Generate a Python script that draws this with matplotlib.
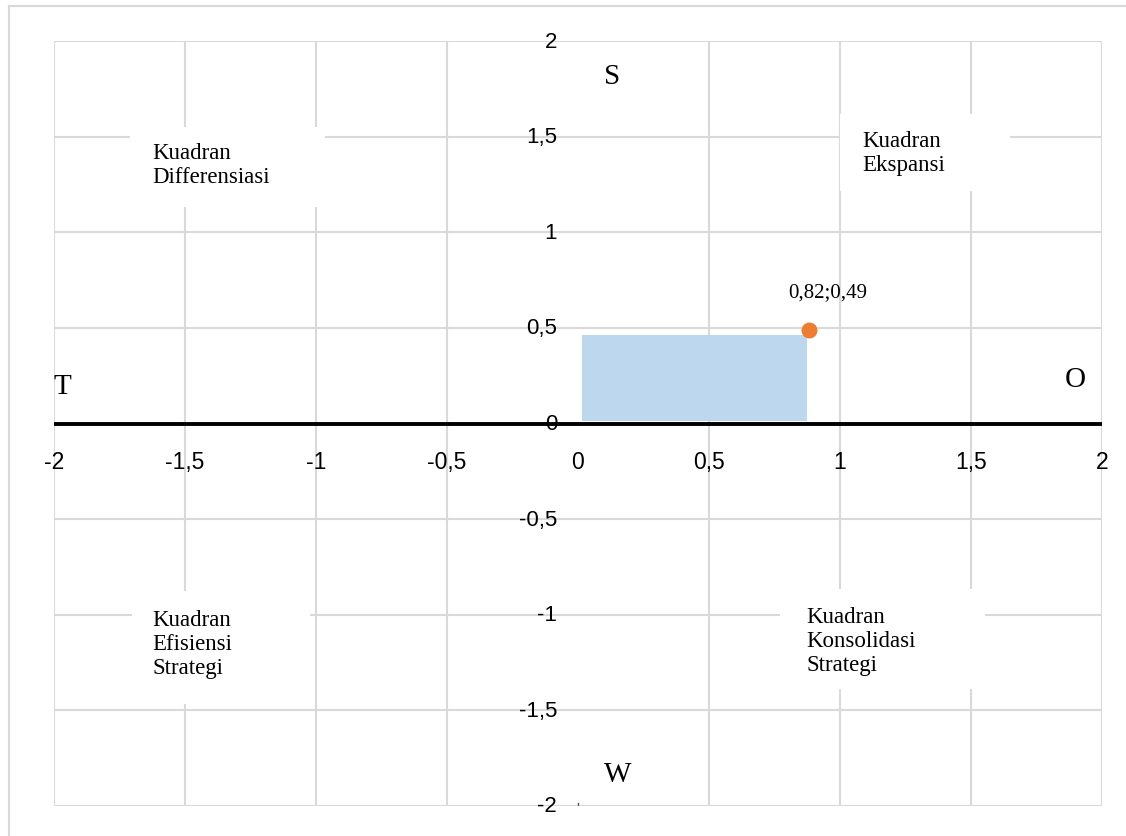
import matplotlib.pyplot as plt
from matplotlib.patches import Rectangle
from matplotlib.lines import Line2D

# data
point_x = [0.88]
point_y = [0.49]
point_label = "0,82;0,49"
box_x0, box_x1 = 0.015, 0.875
box_y0, box_y1 = 0.015, 0.465
x_ticks = [-2, -1.5, -1, -0.5, 0, 0.5, 1, 1.5, 2]
y_ticks = [-2, -1.5, -1, -0.5, 0, 0.5, 1, 1.5, 2]
# label, text top-left (px), white box (px)
quadrants = [
    ("Kuadran\nDifferensiasi", (152, 143), (130, 128, 325, 208)),
    ("Kuadran\nEkspansi", (862, 131), (840, 115, 1010, 192)),
    ("Kuadran\nEfisiensi\nStrategi", (152, 610), (132, 592, 310, 705)),
    ("Kuadran\nKonsolidasi\nStrategi", (806, 607), (780, 590, 985, 690)),
]
swot = [("S", 612, 77), ("T", 62, 387), ("O", 1075, 380), ("W", 618, 775)]


def fmt(v):
    return ("%g" % v).replace(".", ",")


W, H = 1126, 837
X0, X1, Y0, Y1 = 54, 1102, 42, 807


def px(x, y):
    # pixel position -> data coords
    return (-2 + 4 * (x - X0) / (X1 - X0), 2 - 4 * (y - Y0) / (Y1 - Y0))


fig = plt.figure(figsize=(W / 100, H / 100), dpi=100)
ax = fig.add_axes([X0 / W, 1 - Y1 / H, (X1 - X0) / W, (Y1 - Y0) / H])
ax.set_xlim(-2, 2)
ax.set_ylim(-2, 2)
for s in ax.spines.values():
    s.set_visible(False)
ax.set_xticks([])
ax.set_yticks([])

grid_c = "#d9d9d9"
for v in x_ticks:
    if v != 0:
        ax.axvline(v, color=grid_c, lw=1.5, zorder=0)
for v in y_ticks:
    if v != 0:
        ax.axhline(v, color=grid_c, lw=1.5, zorder=0)

# white boxes behind quadrant labels
for _, _, (x0, y0, x1, y1) in quadrants:
    a = px(x0, y1)
    b = px(x1, y0)
    ax.add_patch(Rectangle(a, b[0] - a[0], b[1] - a[1], facecolor="white",
                           edgecolor="none", zorder=1, clip_on=False))

ax.axhline(0, color="black", lw=2.8, zorder=3)
ax.plot([0, 0], [-2, -1.985], color="#595959", lw=1, zorder=3)

ax.add_patch(Rectangle((box_x0, box_y0), box_x1 - box_x0, box_y1 - box_y0,
                       facecolor="#bdd7ee", edgecolor="none", zorder=2))
ax.scatter(point_x, point_y, s=110, color="#ed7d31", zorder=4)
ax.text(point_x[0] + 0.075, point_y[0] + 0.2, point_label, family="Liberation Serif",
        fontsize=15, ha="center", va="center")

sans = "Liberation Sans"
for v in y_ticks:
    ax.text(-0.08, v, fmt(v), family=sans, fontsize=16, ha="right", va="center")
for v in x_ticks:
    ax.text(v, -0.2, fmt(v), family=sans, fontsize=16.5, ha="center", va="center")

for txt, (tx, ty), _ in quadrants:
    ax.text(*px(tx, ty), txt, family="Liberation Serif", fontsize=16.5, ha="left",
            va="top", linespacing=1.18, zorder=5)

for txt, tx, ty in swot:
    ax.text(*px(tx, ty), txt, family="Liberation Serif", fontsize=21, ha="center",
            va="center")

# outer frame
fig.lines.append(Line2D([9 / W, 1], [1 - 7 / H, 1 - 7 / H], transform=fig.transFigure,
                        color="#d9d9d9", lw=1.5))
fig.lines.append(Line2D([9 / W, 9 / W], [0, 1 - 7 / H], transform=fig.transFigure,
                        color="#d9d9d9", lw=1.5))

fig.savefig("out.png", dpi=100, facecolor="white")
